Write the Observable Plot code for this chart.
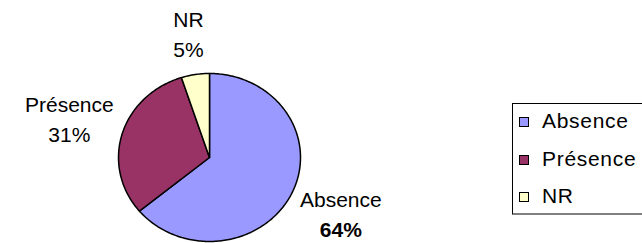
<!DOCTYPE html>
<html>
<head>
<meta charset="utf-8">
<script src="https://cdn.jsdelivr.net/npm/d3@7"></script>
<script src="https://cdn.jsdelivr.net/npm/@observablehq/plot@0.6"></script>
<style>
  html, body { margin: 0; padding: 0; background: #fff; overflow: hidden; }
  #wrap { position: relative; width: 642px; height: 243px; overflow: hidden;
          font-family: "Liberation Sans", Arial, sans-serif; }
  #wrap svg { display: block; }
  .legend-box { position: absolute; left: 512px; top: 103px; width: 140px; height: 109px;
                border: 1px solid #000; border-bottom: 2px solid #808080; background: #fff; }
  .legend-row { position: absolute; left: 519px; height: 37.5px; line-height: 37.5px;
                font-size: 21px; letter-spacing: 0.7px; color: #000; white-space: nowrap; }
  .legend-row .sw { display: inline-block; width: 8px; height: 8px; border: 1.5px solid #000;
                    margin-right: 13px; vertical-align: 1px; }
</style>
</head>
<body>
<div id="wrap"></div>
<script>
// ---- data ----
const categories = ["Absence", "Présence", "NR"];
const values = [64, 31, 5];            // percent
const colors = ["#9999FF", "#993366", "#FFFFCC"];

// ---- build slice outlines (angles clockwise from 12 o'clock) ----
const total = d3.sum(values);
const slicePts = [];
const labels = [];
let acc = 0;
categories.forEach((c, i) => {
  const a0 = acc / total * 2 * Math.PI;
  acc += values[i];
  const a1 = acc / total * 2 * Math.PI;
  slicePts.push({cat: c, x: 0, y: 0});
  const n = Math.max(2, Math.ceil((a1 - a0) / (Math.PI / 180)));
  for (let k = 0; k <= n; k++) {
    const a = a0 + (a1 - a0) * k / n;
    slicePts.push({cat: c, x: Math.sin(a), y: Math.cos(a)});
  }
  const am = (a0 + a1) / 2;
  const r = 1.45 + 0.16 * Math.abs(Math.sin(am));
  labels.push({cat: c, pct: values[i] + "%", x: Math.sin(am) * r, y: Math.cos(am) * r});
});

const font = {fontFamily: "Liberation Sans, Arial, sans-serif", fontSize: 21};

const chart = Plot.plot({
  width: 642,
  height: 243,
  margin: 0,
  x: {domain: [-1, 1], range: [118, 300], axis: null},
  y: {domain: [-1, 1], range: [241, 73], axis: null},
  color: {domain: categories, range: colors},
  style: {background: "white", overflow: "visible"},
  marks: [
    Plot.line(slicePts, {x: "x", y: "y", z: "cat", fill: "cat", stroke: "black",
                         strokeWidth: 1.5, curve: "linear-closed", strokeLinejoin: "round"}),
    Plot.text(labels, {x: "x", y: "y", text: "cat", dy: -14.5, fill: "black", ...font,
                       textAnchor: "middle", lineAnchor: "middle", letterSpacing: 0.7}),
    Plot.text(labels, {filter: d => d.cat !== "Absence", x: "x", y: "y", text: "pct", dy: 15.5,
                       fill: "black", ...font, textAnchor: "middle", lineAnchor: "middle"}),
    Plot.text(labels, {filter: d => d.cat === "Absence", x: "x", y: "y", text: "pct", dy: 15.5,
                       fill: "black", ...font, fontWeight: "bold", textAnchor: "middle", lineAnchor: "middle"})
  ]
});

const wrap = document.getElementById("wrap");
wrap.appendChild(chart);

// legend
const box = document.createElement("div");
box.className = "legend-box";
wrap.appendChild(box);
categories.forEach((c, i) => {
  const row = document.createElement("div");
  row.className = "legend-row";
  row.style.top = (102 + 37.5 * i) + "px";
  const sw = document.createElement("span");
  sw.className = "sw";
  sw.style.background = colors[i];
  row.appendChild(sw);
  row.appendChild(document.createTextNode(c));
  wrap.appendChild(row);
});
</script>
</body>
</html>
